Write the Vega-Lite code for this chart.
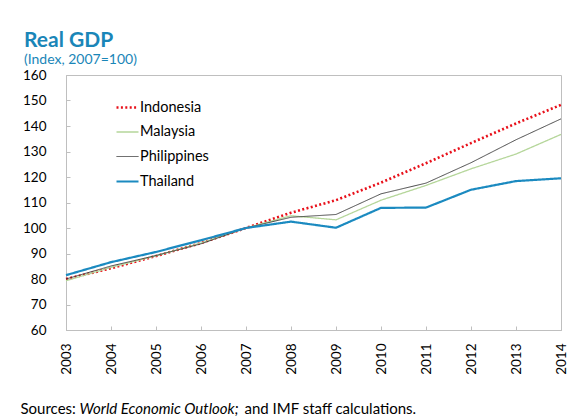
{
  "$schema": "https://vega.github.io/schema/vega-lite/v6.json",
  "autosize": {"type": "none"},
  "width": 495,
  "height": 255,
  "padding": {"left": 66, "top": 75, "right": 6, "bottom": 89},
  "background": "white",
  "title": {
    "text": "Real GDP",
    "subtitle": "(Index, 2007=100)",
    "anchor": "start",
    "frame": "group",
    "dx": -42,
    "offset": 1,
    "font": "Lato",
    "fontSize": 21,
    "fontWeight": "bold",
    "color": "#1A86B8",
    "subtitleFont": "Lato",
    "subtitleFontSize": 14,
    "subtitleColor": "#1A86B8",
    "subtitlePadding": 2
  },
  "data": {
    "values": [
      {"year": 2003, "country": "Indonesia", "value": 80.0},
      {"year": 2004, "country": "Indonesia", "value": 84.2},
      {"year": 2005, "country": "Indonesia", "value": 89.0},
      {"year": 2006, "country": "Indonesia", "value": 94.1},
      {"year": 2007, "country": "Indonesia", "value": 100.0},
      {"year": 2008, "country": "Indonesia", "value": 106.0},
      {"year": 2009, "country": "Indonesia", "value": 110.9},
      {"year": 2010, "country": "Indonesia", "value": 117.8},
      {"year": 2011, "country": "Indonesia", "value": 125.4},
      {"year": 2012, "country": "Indonesia", "value": 133.3},
      {"year": 2013, "country": "Indonesia", "value": 141.0},
      {"year": 2014, "country": "Indonesia", "value": 148.3},
      {"year": 2003, "country": "Malaysia", "value": 79.3},
      {"year": 2004, "country": "Malaysia", "value": 84.6},
      {"year": 2005, "country": "Malaysia", "value": 89.1},
      {"year": 2006, "country": "Malaysia", "value": 94.1},
      {"year": 2007, "country": "Malaysia", "value": 100.0},
      {"year": 2008, "country": "Malaysia", "value": 104.8},
      {"year": 2009, "country": "Malaysia", "value": 103.2},
      {"year": 2010, "country": "Malaysia", "value": 110.9},
      {"year": 2011, "country": "Malaysia", "value": 116.7},
      {"year": 2012, "country": "Malaysia", "value": 123.2},
      {"year": 2013, "country": "Malaysia", "value": 129.0},
      {"year": 2014, "country": "Malaysia", "value": 136.7},
      {"year": 2003, "country": "Philippines", "value": 80.0},
      {"year": 2004, "country": "Philippines", "value": 85.1},
      {"year": 2005, "country": "Philippines", "value": 89.2},
      {"year": 2006, "country": "Philippines", "value": 93.8},
      {"year": 2007, "country": "Philippines", "value": 100.0},
      {"year": 2008, "country": "Philippines", "value": 104.2},
      {"year": 2009, "country": "Philippines", "value": 105.3},
      {"year": 2010, "country": "Philippines", "value": 113.4},
      {"year": 2011, "country": "Philippines", "value": 117.6},
      {"year": 2012, "country": "Philippines", "value": 125.6},
      {"year": 2013, "country": "Philippines", "value": 134.6},
      {"year": 2014, "country": "Philippines", "value": 142.8},
      {"year": 2003, "country": "Thailand", "value": 81.5},
      {"year": 2004, "country": "Thailand", "value": 86.6},
      {"year": 2005, "country": "Thailand", "value": 90.6},
      {"year": 2006, "country": "Thailand", "value": 95.2},
      {"year": 2007, "country": "Thailand", "value": 100.0},
      {"year": 2008, "country": "Thailand", "value": 102.5},
      {"year": 2009, "country": "Thailand", "value": 100.1},
      {"year": 2010, "country": "Thailand", "value": 107.9},
      {"year": 2011, "country": "Thailand", "value": 108.0},
      {"year": 2012, "country": "Thailand", "value": 115.0},
      {"year": 2013, "country": "Thailand", "value": 118.4},
      {"year": 2014, "country": "Thailand", "value": 119.5}
    ]
  },
  "resolve": {"axis": {"x": "independent"}},
  "layer": [
    {
      "mark": {"type": "line", "strokeCap": "butt", "strokeJoin": "round"},
      "encoding": {
        "x": {
          "field": "year",
          "type": "quantitative",
          "scale": {"domain": [2003, 2014], "nice": false, "zero": false},
          "axis": {
            "values": [2003, 2004, 2005, 2006, 2007, 2008, 2009, 2010, 2011, 2012, 2013, 2014],
            "format": "d",
            "labelAngle": -90,
            "labelPadding": 17,
            "labelOverlap": false,
            "tickSize": -4,
            "title": null,
            "orient": "bottom"
          }
        },
        "y": {
          "field": "value",
          "type": "quantitative",
          "scale": {"domain": [60, 160], "nice": false, "zero": false},
          "axis": {
            "values": [60, 70, 80, 90, 100, 110, 120, 130, 140, 150, 160],
            "labelPadding": 24,
            "labelOverlap": false,
            "tickSize": -4,
            "title": null
          }
        },
        "color": {
          "field": "country",
          "type": "nominal",
          "scale": {
            "domain": ["Indonesia", "Malaysia", "Philippines", "Thailand"],
            "range": ["#E8101A", "#B5D69A", "#333333", "#1B8AC0"]
          },
          "legend": {"title": null}
        },
        "strokeDash": {
          "field": "country",
          "type": "nominal",
          "scale": {
            "domain": ["Indonesia", "Malaysia", "Philippines", "Thailand"],
            "range": [[2, 2.4], [1, 0], [1, 0], [1, 0]]
          },
          "legend": {"title": null}
        },
        "strokeWidth": {
          "field": "country",
          "type": "nominal",
          "scale": {
            "type": "ordinal",
            "domain": ["Indonesia", "Malaysia", "Philippines", "Thailand"],
            "range": [2.6, 1.3, 0.9, 2.2]
          },
          "legend": {"title": null}
        }
      }
    },
    {
      "mark": {"type": "point", "opacity": 0},
      "encoding": {
        "x": {
          "field": "year",
          "type": "quantitative",
          "axis": {
            "orient": "bottom",
            "labels": false,
            "ticks": false,
            "domain": false,
            "title": "Sources:",
            "titleX": -46,
            "titleY": 83,
            "titleAlign": "left",
            "titleAnchor": "start",
            "titleBaseline": "alphabetic",
            "titleFontStyle": "normal"
          }
        }
      }
    },
    {
      "mark": {"type": "point", "opacity": 0},
      "encoding": {
        "x": {
          "field": "year",
          "type": "quantitative",
          "axis": {
            "orient": "bottom",
            "labels": false,
            "ticks": false,
            "domain": false,
            "title": "World Economic Outlook;",
            "titleX": 13,
            "titleY": 83,
            "titleAlign": "left",
            "titleAnchor": "start",
            "titleBaseline": "alphabetic",
            "titleFontStyle": "italic"
          }
        }
      }
    },
    {
      "mark": {"type": "point", "opacity": 0},
      "encoding": {
        "x": {
          "field": "year",
          "type": "quantitative",
          "axis": {
            "orient": "bottom",
            "labels": false,
            "ticks": false,
            "domain": false,
            "title": "and IMF staff calculations.",
            "titleX": 178,
            "titleY": 83,
            "titleAlign": "left",
            "titleAnchor": "start",
            "titleBaseline": "alphabetic",
            "titleFontStyle": "normal"
          }
        }
      }
    }
  ],
  "config": {
    "font": "Lato",
    "view": {"stroke": "#BFBFBF", "strokeWidth": 1},
    "axis": {
      "grid": false,
      "domainColor": "#BFBFBF",
      "tickColor": "#BFBFBF",
      "labelColor": "#000000",
      "labelFont": "Lato",
      "labelFontSize": 13.5,
      "titleFont": "Lato",
      "titleFontSize": 15,
      "titleFontWeight": "normal",
      "titleColor": "#000000"
    },
    "legend": {
      "orient": "none",
      "legendX": 49,
      "legendY": 20,
      "symbolType": "stroke",
      "symbolSize": 484,
      "labelFont": "Lato",
      "labelFontSize": 14.5,
      "labelColor": "#000000",
      "labelOffset": 0,
      "rowPadding": 6
    }
  }
}
